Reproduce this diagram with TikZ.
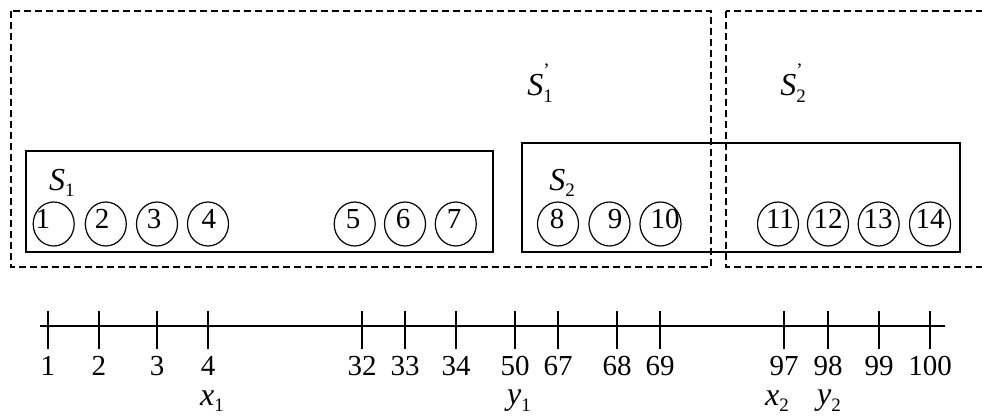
\documentclass[tikz,border=0pt]{standalone}
\usepackage{fontspec}
\setmainfont{Liberation Serif}
\usetikzlibrary{shapes.geometric}
\newcommand{\subsz}{\fontsize{9.5}{10}\selectfont}
\newcommand{\setname}[1]{{\fontsize{16}{18}\selectfont\textit{S}}\raisebox{-0.5ex}{\subsz #1}}
\newcommand{\setnamep}[1]{{\fontsize{16}{18}\selectfont\textit{S}}\rlap{\raisebox{1.5ex}{\subsz '}}\raisebox{-0.5ex}{\subsz #1}}
\newcommand{\var}[2]{{\fontsize{16}{18}\selectfont\textit{#1}}\raisebox{-0.5ex}{\subsz #2}}
\begin{document}
\begin{tikzpicture}[x=0.5pt,y=-0.5pt,
  font=\fontsize{14.5}{16}\selectfont,
  group/.style={draw,line width=0.75pt},
  cover/.style={draw,line width=0.75pt,dash pattern=on 3.5pt off 2pt},
  ball/.style={draw,line width=0.6pt,ellipse,minimum width=20.5pt,minimum height=22pt,inner sep=0pt},
  num/.style={inner sep=0pt,anchor=center},
  tick/.style={line width=0.75pt},
  lab/.style={inner sep=0pt,anchor=center}]
\useasboundingbox (0,0) rectangle (982,417);
\clip (0,0) rectangle (982,417);

% covering sets (dashed)
\draw[cover] (11,11) rectangle (711,267);
\draw[cover] (726,11) rectangle (1000,267);

% groups S1 and S2
\draw[group] (26,151) rectangle (493,252);
\draw[group] (522,143) rectangle (960,252);

\node[lab] (s1)  at (62,183)  {\setname{1}};
\node[lab] (s2)  at (562,183) {\setname{2}};
\node[lab] (s1p) at (540,83)  {\setnamep{1}};
\node[lab] (s2p) at (793,83)  {\setnamep{2}};

% elements
\foreach \i/\cx/\tx in {1/53.7/43,2/105.8/102,3/157/154,4/208/209,5/354.7/353,6/405/403,7/455.8/454,
                        8/558/557,9/609.5/615,10/660.5/665,11/778/780,12/828/828,13/878.7/878,14/930/930}{
  \node[ball] (c\i) at (\cx,224) {};
  \node[num]  (n\i) at (\tx,219) {\i};
}

% number line
\coordinate (axL) at (40,326);
\coordinate (axR) at (945,326);
\draw[tick] (axL) -- (axR);
\foreach \v/\x in {1/48,2/99,3/157,4/208,32/362,33/405,34/456,50/515,67/558,68/617,69/660,97/784,98/828,99/879,100/930}{
  \draw[tick] (\x,311) -- (\x,349);
  \node[lab] (t\v) at (\x,366) {\v};
}
\node[lab] (x1) at (212,401) {\var{x}{1}};
\node[lab] (y1) at (519,401) {\var{y}{1}};
\node[lab] (x2) at (777,401) {\var{x}{2}};
\node[lab] (y2) at (829,401) {\var{y}{2}};
\end{tikzpicture}
\end{document}
